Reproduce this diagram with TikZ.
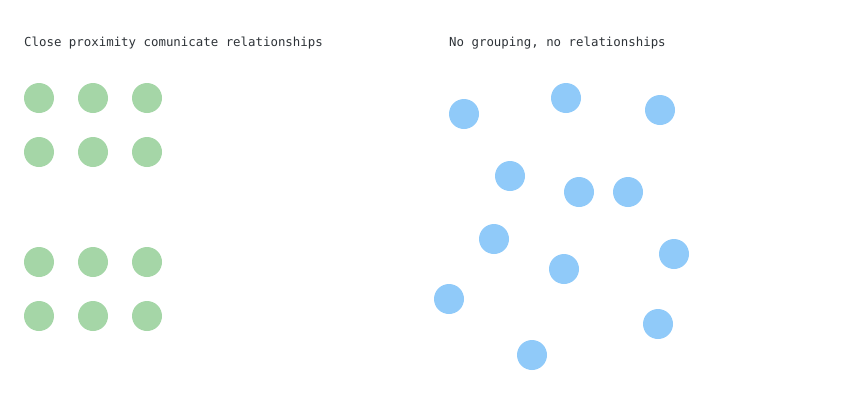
\documentclass[tikz,border=0pt]{standalone}
\usepackage{fontspec}
\setmonofont{DejaVu Sans Mono}
\definecolor{grn}{HTML}{A5D6A7}
\definecolor{blu}{HTML}{90CAF9}
\definecolor{txt}{HTML}{2E3338}
\begin{document}
\begin{tikzpicture}[x=1pt,y=-1pt,
  gdot/.style={circle,fill=grn,minimum size=30pt,inner sep=0pt},
  bdot/.style={circle,fill=blu,minimum size=30pt,inner sep=0pt},
  lbl/.style={anchor=base west,inner sep=0pt,text=txt,font=\ttfamily\fontsize{12.4}{14}\selectfont}]
\useasboundingbox (0,0) rectangle (866,400);
\node[lbl] (t1) at (24,46) {Close proximity comunicate relationships};
\node[lbl] (t2) at (449,46) {No grouping, no relationships};
\foreach \y [count=\j] in {98,152,262,316}{
  \foreach \x [count=\i] in {39,93,147}{
    \node[gdot] (g\j\i) at (\x,\y) {};
  }
}
\foreach \x/\y [count=\k] in {464/114,566/98,660/110,510/176,579/192,628/192,494/239,674/254,564/269,449/299,658/324,532/355}{
  \node[bdot] (b\k) at (\x,\y) {};
}
\end{tikzpicture}
\end{document}
